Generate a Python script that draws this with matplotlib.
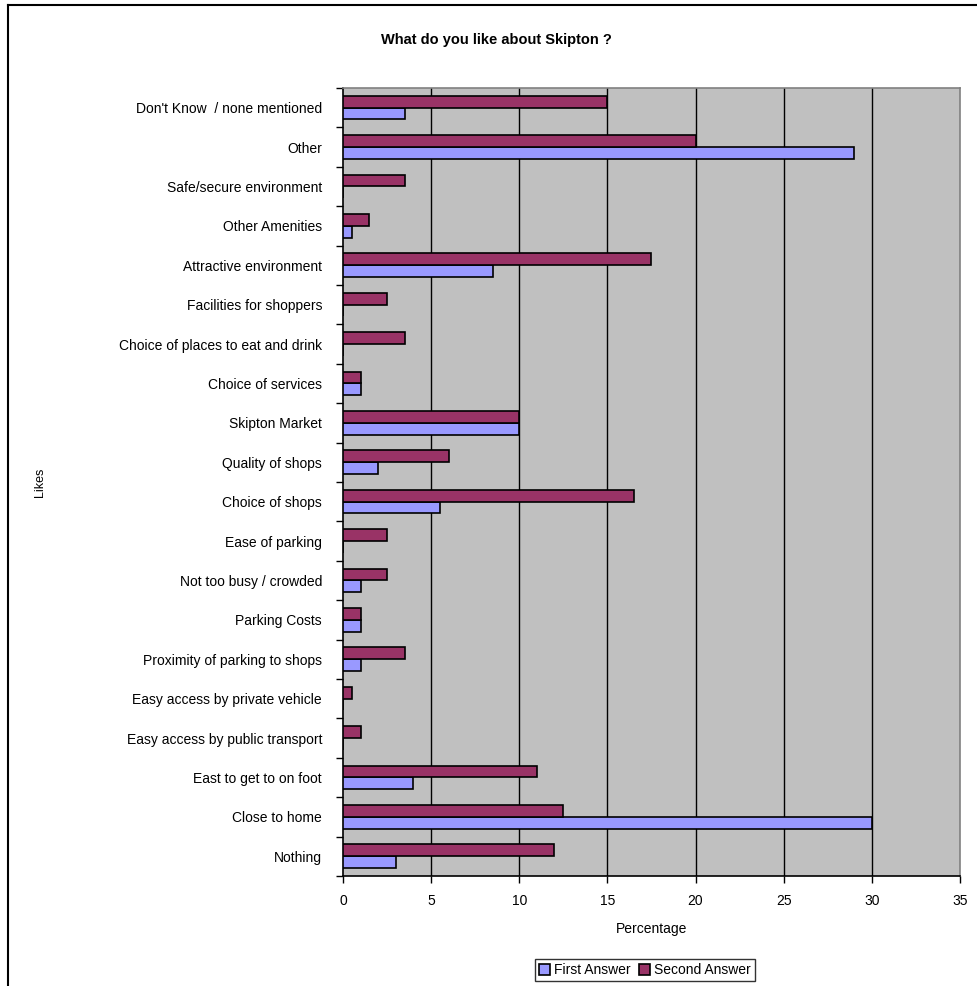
import numpy as np
import matplotlib
matplotlib.use("Agg")
import matplotlib.pyplot as plt
from matplotlib.lines import Line2D

# categories listed top to bottom as in the chart
categories = [
    "Don't Know  / none mentioned",
    "Other",
    "Safe/secure environment",
    "Other Amenities",
    "Attractive environment",
    "Facilities for shoppers",
    "Choice of places to eat and drink",
    "Choice of services",
    "Skipton Market",
    "Quality of shops",
    "Choice of shops",
    "Ease of parking",
    "Not too busy / crowded",
    "Parking Costs",
    "Proximity of parking to shops",
    "Easy access by private vehicle",
    "Easy access by public transport",
    "East to get to on foot",
    "Close to home",
    "Nothing",
]
first_answer = [3.5, 29, 0, 0.5, 8.5, 0, 0, 1, 10, 2, 5.5, 0, 1, 1, 1, 0, 0, 4, 30, 3]
second_answer = [15, 20, 3.5, 1.5, 17.5, 2.5, 3.5, 1, 10, 6, 16.5, 2.5, 2.5, 1, 3.5, 0.5, 1, 11, 12.5, 12]
x_ticks = [0, 5, 10, 15, 20, 25, 30, 35]

plt.rcParams['font.family'] = ['Liberation Sans', 'DejaVu Sans']

fig = plt.figure(figsize=(9.77, 9.86), dpi=100)
ax = fig.add_axes([0.351, 0.1116, 0.6316, 0.7992])

n = len(categories)
ypos = np.arange(n)[::-1]
bh = 0.30

ax.barh(ypos - bh / 2, first_answer, height=bh, color='#9999FF',
        edgecolor='black', linewidth=1.2, label='First Answer', zorder=3)
ax.barh(ypos + bh / 2, second_answer, height=bh, color='#993366',
        edgecolor='black', linewidth=1.2, label='Second Answer', zorder=3)

ax.set_facecolor('#C0C0C0')
ax.set_xlim(0, 35)
ax.set_ylim(-0.5, n - 0.5)

ax.set_xticks(x_ticks)
ax.tick_params(axis='x', direction='out', length=5, width=1, labelsize=10, pad=8)
for v in x_ticks[1:-1]:
    ax.axvline(v, color='black', linewidth=1, zorder=1)

ax.set_yticks(ypos)
ax.set_yticklabels(categories)
ax.tick_params(axis='y', which='major', length=0, labelsize=10, pad=15)
ax.set_yticks(np.arange(-0.5, n), minor=True)
ax.tick_params(axis='y', which='minor', direction='out', length=5, width=1)

ax.spines['left'].set_color('black')
ax.spines['bottom'].set_color('black')
ax.spines['top'].set_color('#808080')
ax.spines['right'].set_color('#808080')
for s in ax.spines.values():
    s.set_linewidth(1.2)

ax.set_xlabel('Percentage', fontsize=10, labelpad=10)
fig.text(0.041, 0.511, 'Likes', rotation=90, ha='center', va='center', fontsize=9)
fig.text(0.508, 0.959, 'What do you like about Skipton ?', ha='center', va='center',
         fontsize=10.5, fontweight='bold')

leg = fig.legend(loc='center', bbox_to_anchor=(0.660, 0.0162), ncol=2, fontsize=10,
                 frameon=True, fancybox=False, edgecolor='black', handlelength=0.8,
                 handleheight=0.8, handletextpad=0.3, columnspacing=0.6,
                 borderpad=0.3)
leg.get_frame().set_linewidth(1)

# chart border (left and top edges visible)
fig.add_artist(Line2D([8 / 977, 8 / 977], [0, 1 - 5 / 986], transform=fig.transFigure,
                      color='black', linewidth=1.5))
fig.add_artist(Line2D([8 / 977, 1], [1 - 5 / 986, 1 - 5 / 986], transform=fig.transFigure,
                      color='black', linewidth=1.5))

fig.savefig('out.png', dpi=100)
